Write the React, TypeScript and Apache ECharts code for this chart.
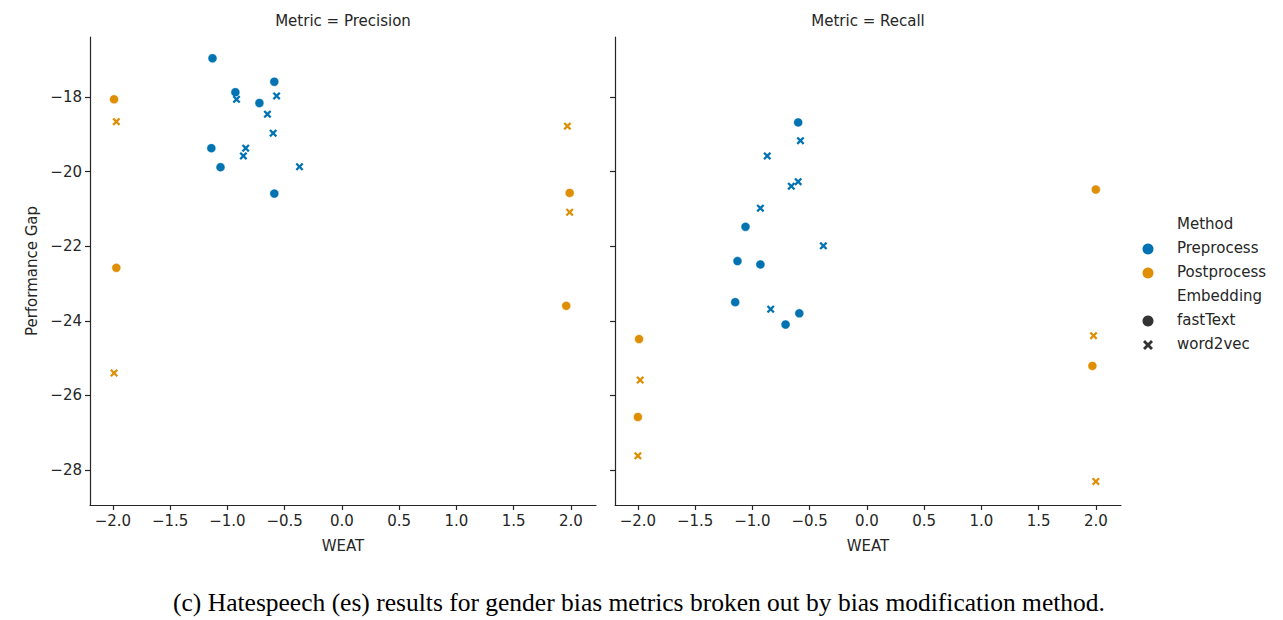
import React, { useEffect, useRef } from "react";
import * as echarts from "echarts";

// ---- data ----
const xTicks = [-2.0, -1.5, -1.0, -0.5, 0.0, 0.5, 1.0, 1.5, 2.0];
const yTicks = [-28, -26, -24, -22, -20, -18];
const panelTitles = ["Metric = Precision", "Metric = Recall"];
const methods = ["Preprocess", "Postprocess"];
const embeddings = ["fastText", "word2vec"];

// Precision panel
const precFastPreX = [-1.13, -0.93, -0.59, -0.72, -1.14, -1.06, -0.59];
const precFastPreY = [-16.96, -17.87, -17.59, -18.16, -19.37, -19.88, -20.59];
const precW2vPreX = [-0.92, -0.57, -0.65, -0.6, -0.84, -0.86, -0.37];
const precW2vPreY = [-18.06, -17.97, -18.46, -18.97, -19.37, -19.58, -19.87];
const precFastPostX = [-1.99, -1.97, 1.99, 1.96];
const precFastPostY = [-18.06, -22.58, -20.57, -23.6];
const precW2vPostX = [-1.97, -1.99, 1.97, 1.99];
const precW2vPostY = [-18.66, -25.4, -18.78, -21.09];

// Recall panel
const recFastPreX = [-0.6, -1.06, -1.13, -0.93, -1.15, -0.59, -0.71];
const recFastPreY = [-18.68, -21.48, -22.4, -22.49, -23.5, -23.8, -24.1];
const recW2vPreX = [-0.58, -0.87, -0.6, -0.66, -0.93, -0.38, -0.84];
const recW2vPreY = [-19.17, -19.58, -20.27, -20.39, -20.98, -21.99, -23.69];
const recFastPostX = [-1.99, -2.0, 2.0, 1.97];
const recFastPostY = [-24.49, -26.58, -20.48, -25.21];
const recW2vPostX = [-1.98, -2.0, 1.98, 2.0];
const recW2vPostY = [-25.59, -27.62, -24.4, -28.31];

const caption =
  "(c) Hatespeech (es) results for gender bias metrics broken out by bias modification method.";

const BLUE = "#0173b2";
const ORANGE = "#de8f05";
const INK = "#262626";
const FONT = "DejaVu Sans";
const FS = 15;
const XSYM =
  "path://M0,2 L2,0 L5,3 L8,0 L10,2 L7,5 L10,8 L8,10 L5,7 L2,10 L0,8 L3,5 Z";

const zip = (xs: number[], ys: number[]) => xs.map((x, i) => [x, ys[i]]);
const minus = (s: string) => s.replace("-", "\u2212");

export default function App() {
  const ref = useRef<HTMLDivElement>(null);

  useEffect(() => {
    if (!ref.current) return;
    const chart = echarts.init(ref.current, undefined, { renderer: "svg" });

    const grids = [
      { left: 90, top: 37, width: 506, height: 468 },
      { left: 615, top: 37, width: 506, height: 468 },
    ];

    const xAxis = [0, 1].map((i) => ({
      type: "value",
      gridIndex: i,
      min: -2.2,
      max: 2.22,
      name: "WEAT",
      nameLocation: "middle",
      nameGap: 33,
      nameTextStyle: { color: INK, fontFamily: FONT, fontSize: FS },
      splitLine: { show: false },
      axisLine: { show: true, onZero: false, lineStyle: { color: INK, width: 1.2 } },
      axisTick: {
        show: true,
        inside: false,
        length: 5,
        customValues: xTicks,
        lineStyle: { color: INK, width: 1.2 },
      },
      axisLabel: {
        color: INK,
        fontFamily: FONT,
        fontSize: FS,
        margin: 8,
        customValues: xTicks,
        formatter: (v: number) => minus(v.toFixed(1)),
      },
    }));

    const yAxis = [0, 1].map((i) => ({
      type: "value",
      gridIndex: i,
      min: -28.94,
      max: -16.39,
      name: i === 0 ? "Performance Gap" : "",
      nameLocation: "middle",
      nameGap: 51,
      nameTextStyle: { color: INK, fontFamily: FONT, fontSize: FS },
      splitLine: { show: false },
      axisLine: { show: true, onZero: false, lineStyle: { color: INK, width: 1.2 } },
      axisTick: {
        show: true,
        inside: false,
        length: 5,
        customValues: yTicks,
        lineStyle: { color: INK, width: 1.2 },
      },
      axisLabel: {
        show: i === 0,
        color: INK,
        fontFamily: FONT,
        fontSize: FS,
        margin: 8,
        customValues: yTicks,
        formatter: (v: number) => minus(String(Math.round(v))),
      },
    }));

    const mk = (
      idx: number,
      name: string,
      xs: number[],
      ys: number[],
      color: string,
      isX: boolean
    ) => ({
      type: "scatter",
      name,
      xAxisIndex: idx,
      yAxisIndex: idx,
      data: zip(xs, ys),
      symbol: isX ? XSYM : "circle",
      symbolSize: isX ? 8 : 9,
      itemStyle: {
        color,
        opacity: 1,
        borderColor: "#ffffff",
        borderWidth: isX ? 0 : 0.5,
      },
      silent: true,
    });

    const series = [
      mk(0, "prec-fast-pre", precFastPreX, precFastPreY, BLUE, false),
      mk(0, "prec-w2v-pre", precW2vPreX, precW2vPreY, BLUE, true),
      mk(0, "prec-fast-post", precFastPostX, precFastPostY, ORANGE, false),
      mk(0, "prec-w2v-post", precW2vPostX, precW2vPostY, ORANGE, true),
      mk(1, "rec-fast-pre", recFastPreX, recFastPreY, BLUE, false),
      mk(1, "rec-w2v-pre", recW2vPreX, recW2vPreY, BLUE, true),
      mk(1, "rec-fast-post", recFastPostX, recFastPostY, ORANGE, false),
      mk(1, "rec-w2v-post", recW2vPostX, recW2vPostY, ORANGE, true),
    ];

    const legendRows: { label: string; kind: string; color?: string }[] = [
      { label: "Method", kind: "head" },
      { label: methods[0], kind: "circle", color: BLUE },
      { label: methods[1], kind: "circle", color: ORANGE },
      { label: "Embedding", kind: "head" },
      { label: embeddings[0], kind: "circle", color: "#333333" },
      { label: embeddings[1], kind: "x", color: "#333333" },
    ];

    const legendEls: any[] = [];
    legendRows.forEach((r, i) => {
      const y = 224 + i * 24;
      legendEls.push({
        type: "text",
        x: 1177,
        y,
        style: {
          text: r.label,
          fill: INK,
          font: `${FS}px '${FONT}'`,
          textVerticalAlign: "middle",
          verticalAlign: "middle",
        },
      });
      if (r.kind === "circle") {
        legendEls.push({
          type: "circle",
          shape: { cx: 1148, cy: y + 1, r: 5.5 },
          style: { fill: r.color },
        });
      } else if (r.kind === "x") {
        legendEls.push({
          type: "polygon",
          shape: {
            points: [
              [0, 2], [2, 0], [5, 3], [8, 0], [10, 2], [7, 5],
              [10, 8], [8, 10], [5, 7], [2, 10], [0, 8], [3, 5],
            ].map(([a, b]) => [1143 + a, y - 4 + b]),
          },
          style: { fill: r.color },
        });
      }
    });

    const option: any = {
      animation: false,
      backgroundColor: "#ffffff",
      grid: grids,
      xAxis,
      yAxis,
      series,
      graphic: [
        ...panelTitles.map((t, i) => ({
          type: "text",
          x: grids[i].left + grids[i].width / 2,
          y: 21,
          style: {
            text: t,
            fill: INK,
            font: `${FS}px '${FONT}'`,
            textAlign: "center",
            textVerticalAlign: "middle",
            verticalAlign: "middle",
          },
        })),
        ...legendEls,
        {
          type: "text",
          x: 639,
          y: 602,
          style: {
            text: caption,
            fill: "#000000",
            font: "25.5px 'Liberation Serif'",
            textAlign: "center",
            textVerticalAlign: "middle",
            verticalAlign: "middle",
          },
        },
      ],
    };

    chart.setOption(option);
    return () => chart.dispose();
  }, []);

  return (
    <div
      ref={ref}
      style={{ position: "fixed", left: 0, top: 0, width: 1283, height: 620, background: "#fff" }}
    />
  );
}
